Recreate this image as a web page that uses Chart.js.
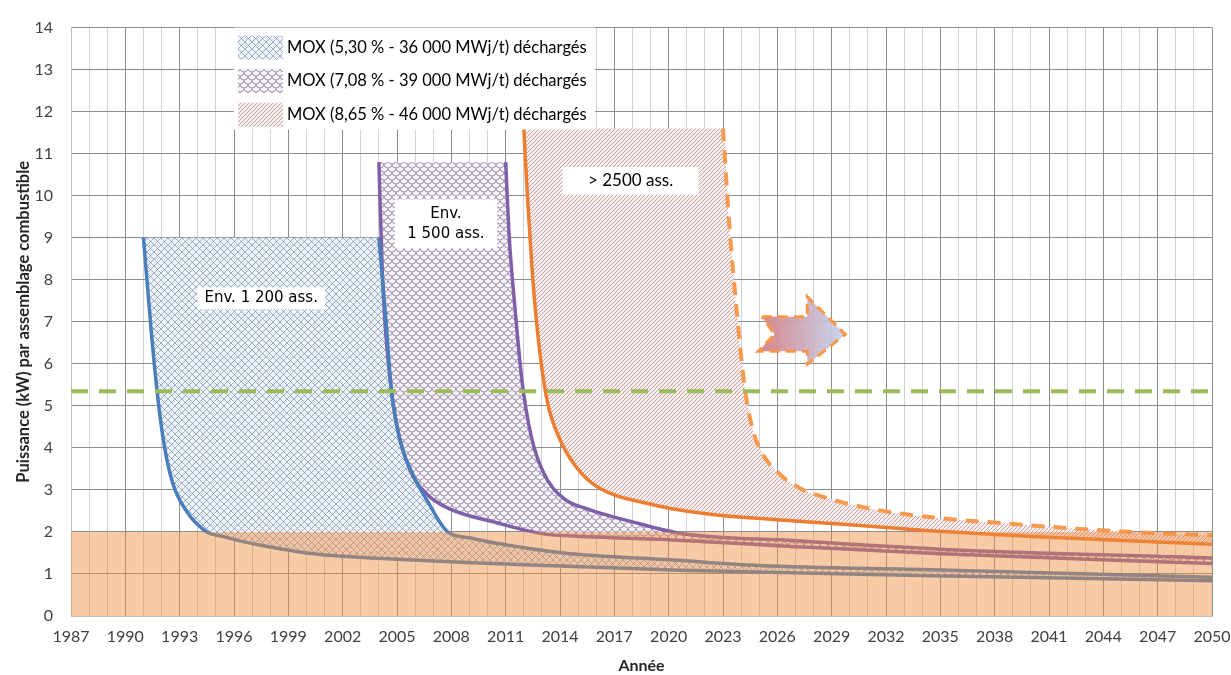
<!DOCTYPE html>
<html>
<head>
<meta charset="utf-8">
<script src="https://cdn.jsdelivr.net/npm/chart.js@4.4.0/dist/chart.umd.min.js"></script>
<style>
  html, body { margin: 0; padding: 0; background: #fff; }
</style>
</head>
<body>
<canvas id="graphique" width="1231" height="675"></canvas>
<script>
// valeurs : année / puissance (kW)
// courbe bleue 1 (MOX 5,30 %, premier déchargement)
const anneesB1 = [1991, 1991.4, 1991.75, 1992.1, 1992.6, 1993.4, 1994.5, 1995.3, 1996.5, 1998, 2000, 2002, 2005, 2008.5, 2014, 2020.6, 2030, 2034.5, 2050];
const puissB1 = [9, 6.93, 5.36, 4.19, 3.18, 2.48, 2.0, 1.9, 1.77, 1.64, 1.5, 1.42, 1.35, 1.28, 1.19, 1.09, 1.0, 0.96, 0.84];
// courbe bleue 2
const anneesB2 = [2004, 2004.35, 2004.7, 2005.2, 2005.9, 2006.7, 2007.8, 2009, 2010.5, 2014.2, 2020.3, 2025, 2034.5, 2050];
const puissB2 = [9, 7.24, 5.34, 4.12, 3.35, 2.72, 2.0, 1.86, 1.73, 1.5, 1.33, 1.2, 1.1, 0.92];
// courbes violettes (MOX 7,08 %)
const anneesP1 = [2004, 2004.2, 2004.6, 2005.0, 2005.7, 2006.7, 2007.9, 2010.5, 2013, 2016, 2020.2, 2027, 2035, 2050];
const puissP1 = [10.8, 8.03, 5.69, 4.52, 3.49, 2.88, 2.55, 2.22, 1.96, 1.88, 1.81, 1.65, 1.48, 1.25];
const anneesP2 = [2011, 2011.2, 2011.5, 2011.9, 2012.4, 2013.1, 2014.2, 2015.5, 2018, 2020.6, 2027, 2035, 2050];
const puissP2 = [10.8, 9.0, 7.4, 5.6, 4.3, 3.4, 2.8, 2.55, 2.24, 1.97, 1.79, 1.59, 1.38];
// courbes orange (MOX 8,65 %) : pleine et pointillée
const anneesO = [2012, 2012.2, 2012.45, 2012.8, 2013.3, 2014.0, 2014.8, 2015.8, 2017, 2018.6, 2020.1, 2022.3, 2025.6, 2030, 2034.4, 2040, 2050];
const puissO = [11.6, 10.0, 8.3, 6.6, 5.1, 4.2, 3.6, 3.15, 2.88, 2.7, 2.56, 2.42, 2.3, 2.17, 2.03, 1.89, 1.71];
const anneesOD = [2023, 2023.35, 2023.75, 2024.15, 2024.6, 2025.2, 2026.2, 2027.3, 2028.8, 2030, 2032.1, 2035.2, 2038.7, 2042.4, 2047, 2050];
const puissOD = [11.6, 9.3, 7.3, 5.6, 4.5, 3.85, 3.35, 3.03, 2.8, 2.66, 2.48, 2.32, 2.2, 2.08, 1.97, 1.92];
// zone orange (0 à 2 kW) et seuil vert
const zoneX = [1987, 2050];
const zoneY = [2, 2];
const seuilX = [1987, 2050];
const seuilY = [5.35, 5.35];
// flèche
const flecheX = [2025.15, 2027.65, 2027.65, 2029.75, 2027.65, 2027.65, 2024.95, 2025.85, 2025.15];
const flecheY = [7.12, 7.12, 7.6, 6.7, 5.99, 6.3, 6.3, 6.7, 7.12];

const legendeTextes = [
  'MOX (5,30 % - 36 000 MWj/t) déchargés',
  'MOX (7,08 % - 39 000 MWj/t) déchargés',
  'MOX (8,65 % - 46 000 MWj/t) déchargés'
];
const etiquettes = [
  { lignes: ['Env. 1 200 ass.'], x: 1997.5, y: 7.56, w: 128, h: 22, police: '15px "DejaVu Sans"' },
  { lignes: ['Env.', '1 500 ass.'], x: 2007.7, y: 9.33, w: 102, h: 49, police: '15px "DejaVu Sans"' },
  { lignes: ['> 2500 ass.'], x: 2017.9, y: 10.35, w: 136, h: 28, police: '17px Lato' }
];

const pts = (xs, ys) => xs.map((v, i) => ({ x: v, y: ys[i] }));

const canvas = document.getElementById('graphique');
const ctxPrincipal = canvas.getContext('2d');

// motifs de hachures
function motif(w, h, fond, trace) {
  const c = document.createElement('canvas');
  c.width = w; c.height = h;
  const g = c.getContext('2d');
  g.fillStyle = fond;
  g.fillRect(0, 0, w, h);
  trace(g);
  return ctxPrincipal.createPattern(c, 'repeat');
}
const motifBleu = motif(7, 7, '#eef3f9', g => {
  g.strokeStyle = 'rgba(90,120,160,0.68)'; g.lineWidth = 0.85;
  g.beginPath(); g.moveTo(0, 0); g.lineTo(7, 7); g.moveTo(7, 0); g.lineTo(0, 7); g.stroke();
});
const motifViolet = motif(8, 8, '#f7f3f9', g => {
  g.strokeStyle = 'rgba(95,75,125,0.65)'; g.lineWidth = 0.8;
  [[0, 0], [8, 0], [4, 4], [0, 8], [8, 8]].forEach(([cx, cy]) => {
    g.beginPath(); g.arc(cx, cy, 4, 0, Math.PI); g.stroke();
  });
});
const motifOrange = motif(4, 4, '#f8efef', g => {
  g.strokeStyle = 'rgba(160,90,90,0.6)'; g.lineWidth = 0.9;
  g.beginPath(); g.moveTo(0, 4); g.lineTo(4, 0); g.moveTo(-1, 1); g.lineTo(1, -1); g.moveTo(3, 5); g.lineTo(5, 3); g.stroke();
});
const motifs = [motifBleu, motifViolet, motifOrange];

const decor = {
  id: 'decor',
  afterDatasetsDraw(chart) {
    const { ctx, chartArea } = chart;
    const sx = chart.scales.x, sy = chart.scales.y;
    ctx.save();
    // encadrés de texte
    etiquettes.forEach(e => {
      const cx = sx.getPixelForValue(e.x), cy = sy.getPixelForValue(e.y);
      ctx.fillStyle = '#fff';
      ctx.fillRect(cx - e.w / 2, cy - e.h / 2, e.w, e.h);
      ctx.fillStyle = '#000';
      ctx.font = e.police;
      ctx.textAlign = 'center';
      ctx.textBaseline = 'middle';
      e.lignes.forEach((t, i) => ctx.fillText(t, cx, cy + (i - (e.lignes.length - 1) / 2) * 20));
    });
    // légende
    const gx = sx.getPixelForValue(1996), gy = chartArea.top;
    ctx.fillStyle = '#fff';
    ctx.fillRect(gx, gy, 361, 102);
    ctx.font = '16.5px Lato';
    ctx.textAlign = 'left';
    legendeTextes.forEach((t, i) => {
      const cy = gy + 20 + i * 33.5;
      ctx.fillStyle = motifs[i];
      ctx.fillRect(gx + 4, cy - 12, 45, 24);
      ctx.fillStyle = '#000';
      ctx.fillText(t, gx + 53, cy);
    });
    ctx.restore();
  }
};

Chart.defaults.font.family = 'Lato, "Open Sans", sans-serif';

const ligne = (xs, ys, couleur, extra) => Object.assign({
  data: pts(xs, ys), borderColor: couleur, borderWidth: 3.5, fill: false, order: 3
}, extra || {});

new Chart(canvas, {
  type: 'line',
  data: {
    datasets: [
      { data: pts(zoneX, zoneY), fill: 'origin', backgroundColor: 'rgba(240,140,60,0.45)', borderWidth: 0, borderColor: 'transparent', tension: 0, cubicInterpolationMode: 'default', order: 0 },
      { data: pts(seuilX, seuilY), borderColor: '#9bbb59', borderWidth: 4, borderDash: [17, 11], fill: false, tension: 0, cubicInterpolationMode: 'default', order: 1 },
      {
        data: pts(flecheX, flecheY), fill: 'shape', borderColor: '#f79646', borderWidth: 3, borderDash: [10, 6],
        tension: 0, cubicInterpolationMode: 'default', order: 1,
        backgroundColor: c => {
          const ch = c.chart, x = ch.scales.x;
          if (!ch.chartArea || !x) return 'rgba(220,160,170,0.9)';
          const g = ch.ctx.createLinearGradient(x.getPixelForValue(Math.min(...flecheX)), 0, x.getPixelForValue(Math.max(...flecheX)), 0);
          g.addColorStop(0, 'rgba(214,126,130,0.95)');
          g.addColorStop(1, 'rgba(196,212,240,0.95)');
          return g;
        }
      },
      ligne(anneesB1, puissB1, '#4a7ebb'),                 // 3
      ligne(anneesB2, puissB2, '#4a7ebb'),                 // 4
      ligne(anneesP1, puissP1, '#7f5fa8'),                 // 5
      ligne(anneesP2, puissP2, '#7f5fa8'),                 // 6
      ligne(anneesO, puissO, '#ed7d31'),                   // 7
      ligne(anneesOD, puissOD, '#f79a4e', { borderWidth: 4, borderDash: [13, 9] }), // 8
      // surfaces hachurées : bord haut (plat puis courbe suivante) jusqu'à la courbe précédente
      { data: [{ x: anneesB1[0], y: puissB1[0] }].concat(pts(anneesB2, puissB2)), fill: 3, backgroundColor: motifBleu, borderWidth: 0, borderColor: 'transparent', order: 4 },
      { data: [{ x: anneesP1[0], y: puissP1[0] }].concat(pts(anneesP2, puissP2)), fill: 5, backgroundColor: motifViolet, borderWidth: 0, borderColor: 'transparent', order: 4 },
      { data: [{ x: anneesO[0], y: puissO[0] }].concat(pts(anneesOD, puissOD)), fill: 7, backgroundColor: motifOrange, borderWidth: 0, borderColor: 'transparent', order: 4 }
    ]
  },
  options: {
    responsive: false,
    animation: false,
    layout: { padding: { top: 18, right: 0, bottom: 0, left: 0 } },
    elements: {
      point: { radius: 0, hoverRadius: 0 },
      line: { cubicInterpolationMode: 'monotone' }
    },
    plugins: { legend: { display: false }, tooltip: { enabled: false } },
    scales: {
      x: {
        type: 'linear', min: 1987, max: 2050,
        ticks: {
          stepSize: 1, autoSkip: false, maxRotation: 0, padding: 11, color: '#404040', font: { size: 16 },
          callback: v => ((v - 1987) % 3 === 0 ? String(v) : '')
        },
        grid: {
          drawTicks: false,
          color: c => (c.tick && (c.tick.value - 1987) % 3 === 0 ? '#8c8c8c' : '#d2d2d2')
        },
        border: { color: '#bfbfbf' },
        title: { display: true, text: 'Année', color: '#262626', font: { size: 16, weight: 'bold' }, padding: { top: 0, bottom: 0 } },
        afterFit: s => { s.height = 59; s.paddingLeft = 0; s.paddingRight = 19; }
      },
      y: {
        min: 0, max: 14,
        ticks: { stepSize: 1, padding: 18, color: '#404040', font: { size: 16 } },
        grid: { drawTicks: false, color: '#8c8c8c' },
        border: { color: '#bfbfbf' },
        title: { display: true, text: 'Puissance (kW) par assemblage combustible', color: '#262626', font: { size: 16.5, weight: 'bold' }, padding: { top: 14, bottom: 0 } },
        afterFit: s => { s.width = 71; }
      }
    }
  },
  plugins: [decor]
});
</script>
</body>
</html>
